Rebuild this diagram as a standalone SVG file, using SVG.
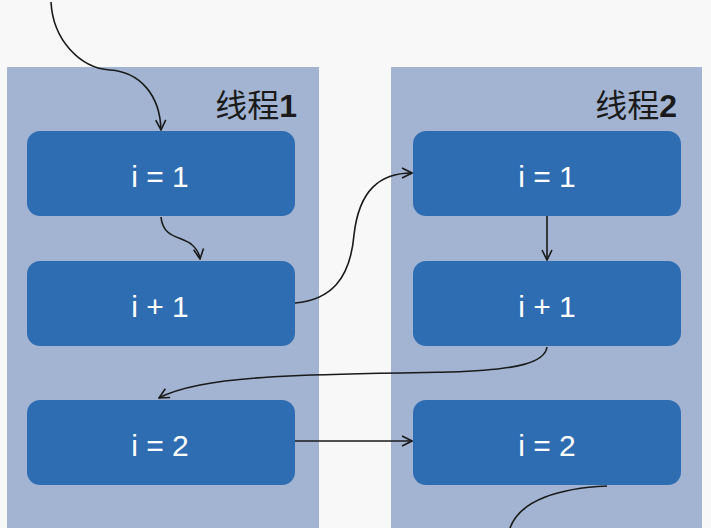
<svg xmlns="http://www.w3.org/2000/svg" width="711" height="528" viewBox="0 0 711 528">
<style>
.panel{fill:#a2b4d2}
.box{fill:#2f6db3}
.t{fill:#ffffff;font-family:"Liberation Sans",Arial,sans-serif;font-size:30px;text-anchor:middle}
.lbl{fill:#1a1a1a;font-family:"Liberation Sans","Noto Sans CJK SC",sans-serif;font-size:32px;text-anchor:end}
.b{font-weight:bold}
.c{fill:none;stroke:#1a1a1a;stroke-width:1.6}
</style>
<defs>
<marker id="ar" viewBox="0 0 12 12" refX="11" refY="6" markerWidth="12" markerHeight="12" markerUnits="userSpaceOnUse" orient="auto">
<path d="M1,1 L11,6 L1,11" fill="none" stroke="#1a1a1a" stroke-width="1.6"/>
</marker>
</defs>
<rect width="711" height="528" fill="#f8f8f8"/>
<g id="thread1">
<rect class="panel" x="7" y="67" width="312" height="461"/>
<text class="lbl" x="297" y="117">线程<tspan class="b">1</tspan></text>
</g>
<g id="thread2">
<rect class="panel" x="391" y="67" width="311" height="461"/>
<text class="lbl" x="677" y="117">线程<tspan class="b">2</tspan></text>
</g>
<g id="n1"><rect class="box" x="27" y="131" width="268" height="85" rx="13"/><text class="t" x="160" y="187">i = 1</text></g>
<g id="n2"><rect class="box" x="27" y="261" width="268" height="85" rx="13"/><text class="t" x="160" y="317">i + 1</text></g>
<g id="n3"><rect class="box" x="27" y="400" width="268" height="85" rx="13"/><text class="t" x="160" y="456">i = 2</text></g>
<g id="n4"><rect class="box" x="413" y="131" width="268" height="85" rx="13"/><text class="t" x="547" y="187">i = 1</text></g>
<g id="n5"><rect class="box" x="413" y="261" width="268" height="85" rx="13"/><text class="t" x="547" y="317">i + 1</text></g>
<g id="n6"><rect class="box" x="413" y="400" width="268" height="85" rx="13"/><text class="t" x="547" y="456">i = 2</text></g>
<g id="connectors">
<path class="c" marker-end="url(#ar)" d="M51,2 C53,40 80,68 110,70 C140,72 160,95 161,130"/>
<path class="c" marker-end="url(#ar)" d="M161,217 C163,238 180,236 191,244 C196,248 199,252 200,259"/>
<path class="c" marker-end="url(#ar)" d="M295,303 C330,300 350,280 354,235 C359,190 380,173 412,173"/>
<path class="c" marker-end="url(#ar)" d="M547,216 L547,260"/>
<path class="c" marker-end="url(#ar)" d="M547,347 C545,362 520,370 450,372 C330,374 250,375 200,385 C180,389 168,393 159,398"/>
<path class="c" marker-end="url(#ar)" d="M295,441 L412,441"/>
<path class="c" d="M607,486 C560,488 520,500 510,528"/>
</g>
</svg>
